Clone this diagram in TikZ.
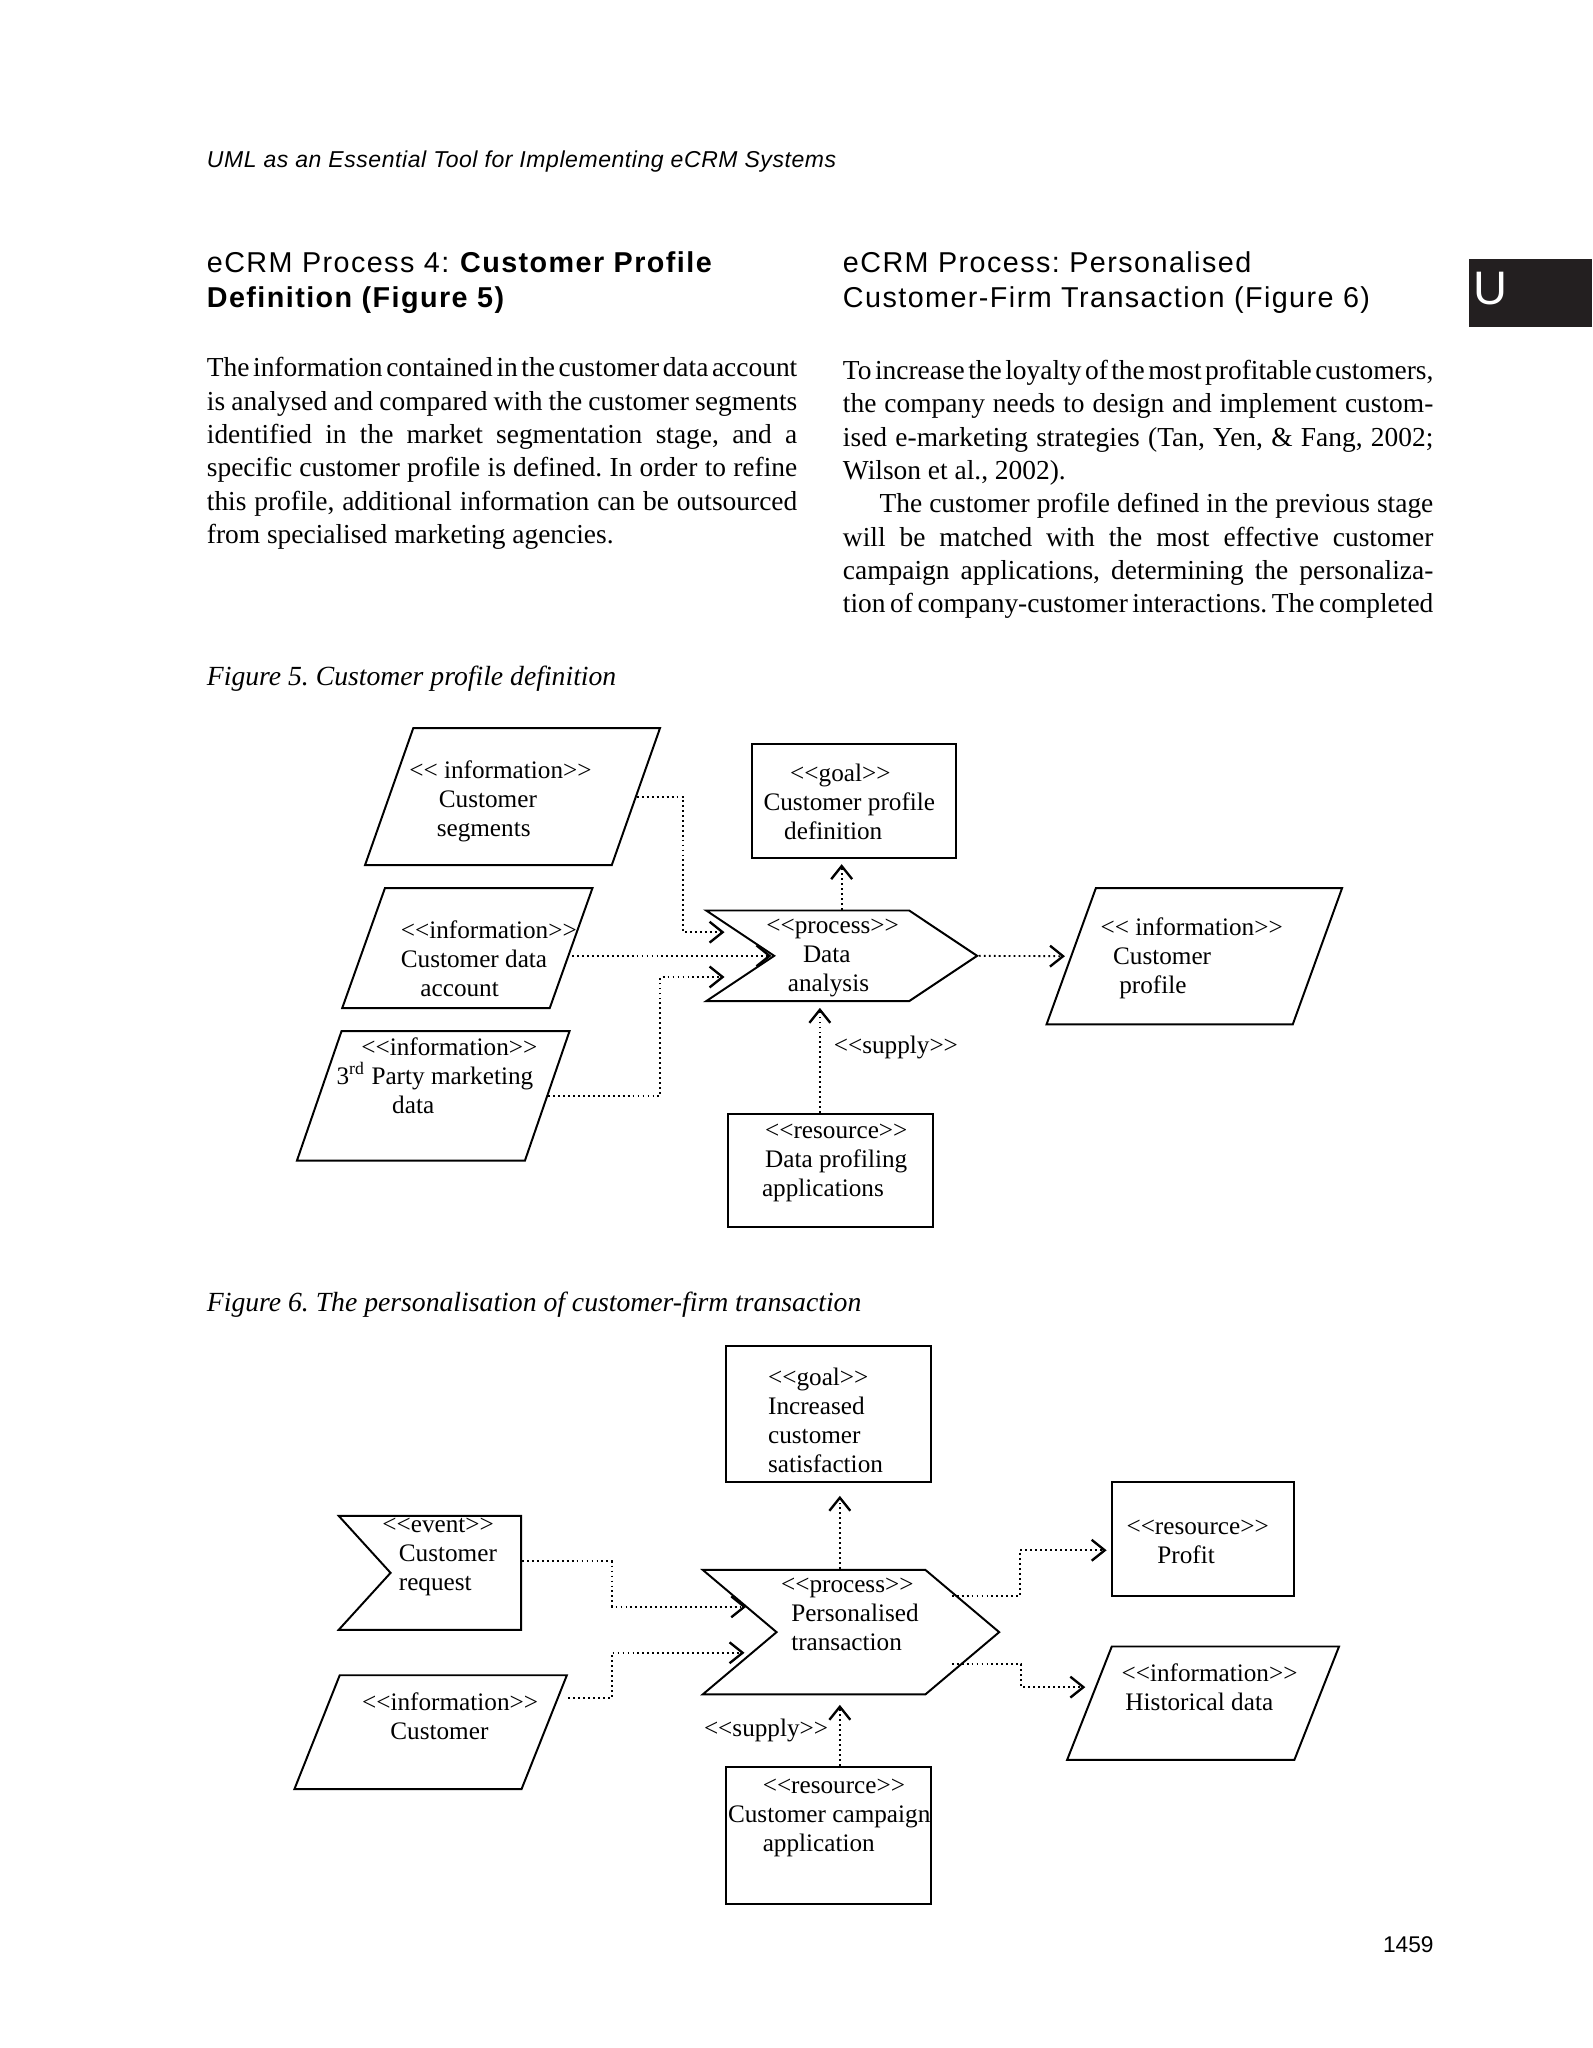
\documentclass[tikz,border=0pt]{standalone}
\usepackage{fontspec}
\setmainfont{Liberation Serif}
\setsansfont{Liberation Sans}
\usetikzlibrary{positioning,calc,arrows.meta,shapes.geometric,shapes.symbols}
\definecolor{tabblack}{HTML}{231F20}
\newcommand{\stereo}[1]{\textless\kern0pt\textless#1\textgreater\kern0pt\textgreater}
\frenchspacing

\begin{document}
\begin{tikzpicture}[x=0.5pt,y=-0.5pt,
    every node/.style={inner sep=0pt},
    shp/.style={draw, line width=0.75pt},
    info/.style={shp, trapezium, minimum width=0pt, minimum height=0pt},
    box/.style={shp, rectangle},
    proc/.style={shp, signal, signal from=west, signal to=east},
    evnt/.style={shp, signal, signal from=west, signal to=nowhere},
    lbl/.style={font=\fontsize{9.65}{11.1}\selectfont, align=left, anchor=west},
    body/.style={font=\fontsize{10.5}{12.75}\selectfont, text width=226pt, align=justify, anchor=north west},
    heading/.style={font=\sffamily\fontsize{11}{13.4}\selectfont\addfontfeature{LetterSpace=5}, align=left, anchor=north west},
    figcap/.style={font=\itshape\fontsize{10.6}{12.75}\selectfont, anchor=base west},
    dep/.style={line width=0.7pt, dash pattern=on 0.7pt off 1.2pt, -{Straight Barb[length=5pt,width=8pt,line width=0.9pt]}}]

  \fill[white] (0,0) rectangle (1219,1568);
  \useasboundingbox (0,0) rectangle (1219,1568);

  % page
  \node[font=\sffamily\itshape\fontsize{8.8}{10}\selectfont\addfontfeature{LetterSpace=2.5}, anchor=base west] (runhead) at (158,128) {UML as an Essential Tool for Implementing eCRM Systems};
  \fill[tabblack] (1125,198.3) rectangle (1219,250.6);
  \node[font=\sffamily\fontsize{18}{18}\selectfont, text=white, anchor=base west] (tab) at (1128,233.5) {U};
  \node[heading] (h5) at (158,192) {eCRM Process 4: \textbf{Customer Profile}\\\textbf{Definition (Figure 5)}};
  \node[heading] (h6) at (645,192) {eCRM Process: Personalised\\Customer-Firm Transaction (Figure 6)};
  \node[body] (p5) at (158,273.3) {\parindent=0pt\spaceskip=0.25em plus 0.2em minus 0.14em\tolerance=9999
    The information contained in the customer data account\linebreak
    is analysed and compared with the customer segments\linebreak
    identified in the market segmentation stage, and a\linebreak
    specific customer profile is defined. In order to refine\linebreak
    this profile, additional information can be outsourced\linebreak
    from specialised marketing agencies.};
  \node[body] (p6) at (645,275.4) {\parindent=0pt\spaceskip=0.25em plus 0.2em minus 0.14em\tolerance=9999
    To increase the loyalty of the most profitable customers,\linebreak
    the company needs to design and implement custom-\linebreak
    ised e-marketing strategies (Tan, Yen, \& Fang, 2002;\linebreak
    Wilson et al., 2002).\par
    \hspace*{14pt}The customer profile defined in the previous stage\linebreak
    will be matched with the most effective customer\linebreak
    campaign applications, determining the personaliza-\linebreak
    tion of company-customer interactions. The completed\parfillskip=0pt\par};
  \node[figcap] (cap5) at (158,525) {Figure 5. Customer profile definition};
  \node[figcap] (cap6) at (158,1004) {Figure 6. The personalisation of customer-firm transaction};
  \node[font=\sffamily\fontsize{8.7}{10}\selectfont, anchor=base east] (folio) at (1098,1494.6) {1459};

  % figure 5
  \node[info, trapezium left angle=70.6, trapezium right angle=109.4, inner xsep=38pt, inner ysep=26.2pt] (seg) at (392.4,609.9) {};
  \node[info, trapezium left angle=70.4, trapezium right angle=109.6, inner xsep=31.55pt, inner ysep=22.95pt] (cda) at (357.8,725.9) {};
  \node[info, trapezium left angle=71, trapezium right angle=109, inner xsep=35.1pt, inner ysep=24.8pt] (tpd) at (331.7,839) {};
  \node[proc, signal pointer angle=67.4, minimum width=103.7pt, minimum height=34.7pt] (da) at (644.4,731.8) {};
  \node[box, minimum width=78.2pt, minimum height=43.7pt] (goal) at (653.7,613.2) {};
  \node[info, trapezium left angle=70.1, trapezium right angle=109.9, inner xsep=37.7pt, inner ysep=26.05pt] (prof) at (914.4,732.1) {};
  \node[box, minimum width=78.7pt, minimum height=43.5pt] (res) at (635.7,896.2) {};

  \node[lbl] (seg-t) at (313,613.5) {\stereo{\ information}\\\hspace*{11.3pt}Customer\\\hspace*{10.5pt}segments};
  \node[lbl] (cda-t) at (306.5,733.7) {\stereo{information}\\Customer data\\\hspace*{7.5pt}account};
  \node[lbl] (tpd-t) at (257.3,823.5) {\hspace*{9.5pt}\stereo{information}\\3\textsuperscript{rd} Party marketing\\\hspace*{21.3pt}data};
  \node[lbl] (da-t) at (586.4,733.5) {\stereo{process}\\\hspace*{14pt}Data\\\hspace*{8.2pt}analysis};
  \node[lbl] (goal-t) at (584.2,613.7) {\hspace*{10.2pt}\stereo{goal}\\Customer profile\\\hspace*{7.9pt}definition};
  \node[lbl] (prof-t) at (842.2,733.6) {\stereo{\ information}\\\hspace*{4.8pt}Customer\\\hspace*{7.2pt}profile};
  \node[lbl] (res-t) at (583,890.2) {\hspace*{1.2pt}\stereo{resource}\\\hspace*{1.2pt}Data profiling\\applications};

  \coordinate (da-i1) at ($(da.center)+(-89.7,-18.1)$);
  \coordinate (da-i2) at ($(da.center)+(-53.8,0)$);
  \coordinate (da-i3) at ($(da.center)+(-89.7,16.2)$);
  \draw[dep] (seg.right side) -| ([xshift=-15.8pt]da-i1) -- (da-i1);
  \draw[dep] (cda.right side |- da-i2) -- (da-i2);
  \draw[dep] (tpd.right side) -| ([xshift=-24.6pt]da-i3) -- (da-i3);
  \draw[dep, shorten >=2pt] (da.east) -- (prof.left side);
  \draw[dep, shorten >=2pt] (da.north) -- (da.north |- goal.south);
  \coordinate (sup5) at ([xshift=-4pt]res.north);
  \draw[dep, shorten >=2.2pt] (sup5) -- (sup5 |- da.south);
  \node[lbl] (sup5-l) at (638,802) {\stereo{supply}};

  % figure 6
  \node[box, minimum width=78.7pt, minimum height=52.1pt] (goal2) at (634.2,1082.4) {};
  \node[evnt, signal pointer angle=95.4, minimum width=69.8pt, minimum height=43.6pt, anchor=east] (evt) at (399.7,1204.2) {};
  \node[info, trapezium left angle=68.3, trapezium right angle=111.7, inner xsep=34.8pt, inner ysep=21.8pt] (cust) at (329.7,1326.2) {};
  \node[proc, signal pointer angle=80.3, minimum width=113.5pt, minimum height=47.7pt] (trans) at (651.5,1249.6) {};
  \node[box, minimum width=69.9pt, minimum height=43.6pt] (profit) at (921.1,1178.2) {};
  \node[info, trapezium left angle=68.5, trapezium right angle=111.5, inner xsep=34.95pt, inner ysep=21.7pt] (hist) at (921.1,1304) {};
  \node[box, minimum width=78.3pt, minimum height=52.4pt] (res2) at (634.3,1405) {};

  \node[lbl] (goal2-t) at (587.7,1087.1) {\stereo{goal}\\Increased\\customer\\satisfaction};
  \node[lbl] (evt-t) at (292.4,1191.8) {\stereo{event}\\\hspace*{6.3pt}Customer\\\hspace*{6.3pt}request};
  \node[lbl] (cust-t) at (276.9,1314.2) {\stereo{information}\\\hspace*{10.8pt}Customer};
  \node[lbl] (trans-t) at (597.6,1236.2) {\stereo{process}\\\hspace*{3.9pt}Personalised\\\hspace*{3.9pt}transaction};
  \node[lbl] (profit-t) at (862.1,1180.3) {\stereo{resource}\\\hspace*{11.8pt}Profit};
  \node[lbl] (hist-t) at (858.3,1291.5) {\stereo{information}\\\hspace*{1.5pt}Historical data};
  \node[lbl] (res2-t) at (557,1391.6) {\hspace*{13.3pt}\stereo{resource}\\Customer campaign\\\hspace*{13.3pt}application};

  \coordinate (tr-i1) at ($(trans.center)+(-80.2,-19.4)$);
  \coordinate (tr-i2) at ($(trans.center)+(-81.5,15.8)$);
  \coordinate (tr-o1) at ($(trans.center)+(77.2,-27.8)$);
  \coordinate (tr-o2) at ($(trans.center)+(77.2,24.6)$);
  \coordinate (pr-i) at ([yshift=-4.35pt]profit.west);
  \coordinate (hi-i) at ($(hist.center)+(-90.2,-12.3)$);
  \draw[dep] ([yshift=4.4pt]evt.east) -| ([xshift=-51.35pt]tr-i1) -- (tr-i1);
  \draw[dep] ([yshift=-9pt]cust.top right corner) -| ([xshift=-50.7pt]tr-i2) -- (tr-i2);
  \draw[dep, shorten >=1.6pt] (tr-o1) -| ([xshift=-34.65pt]pr-i) -- (pr-i);
  \draw[dep] (tr-o2) -| ([xshift=-24.5pt]hi-i) -- (hi-i);
  \coordinate (tr-n) at ([xshift=-4.25pt]trans.north);
  \coordinate (tr-s) at ([xshift=-4.25pt]trans.south);
  \draw[dep, shorten >=5pt] (tr-n) -- (tr-n |- goal2.south);
  \draw[dep, shorten >=3.6pt] (res2.north -| tr-s) -- (tr-s);
  \node[lbl] (sup6-l) at (538.6,1324.8) {\stereo{supply}};
\end{tikzpicture}
\end{document}
